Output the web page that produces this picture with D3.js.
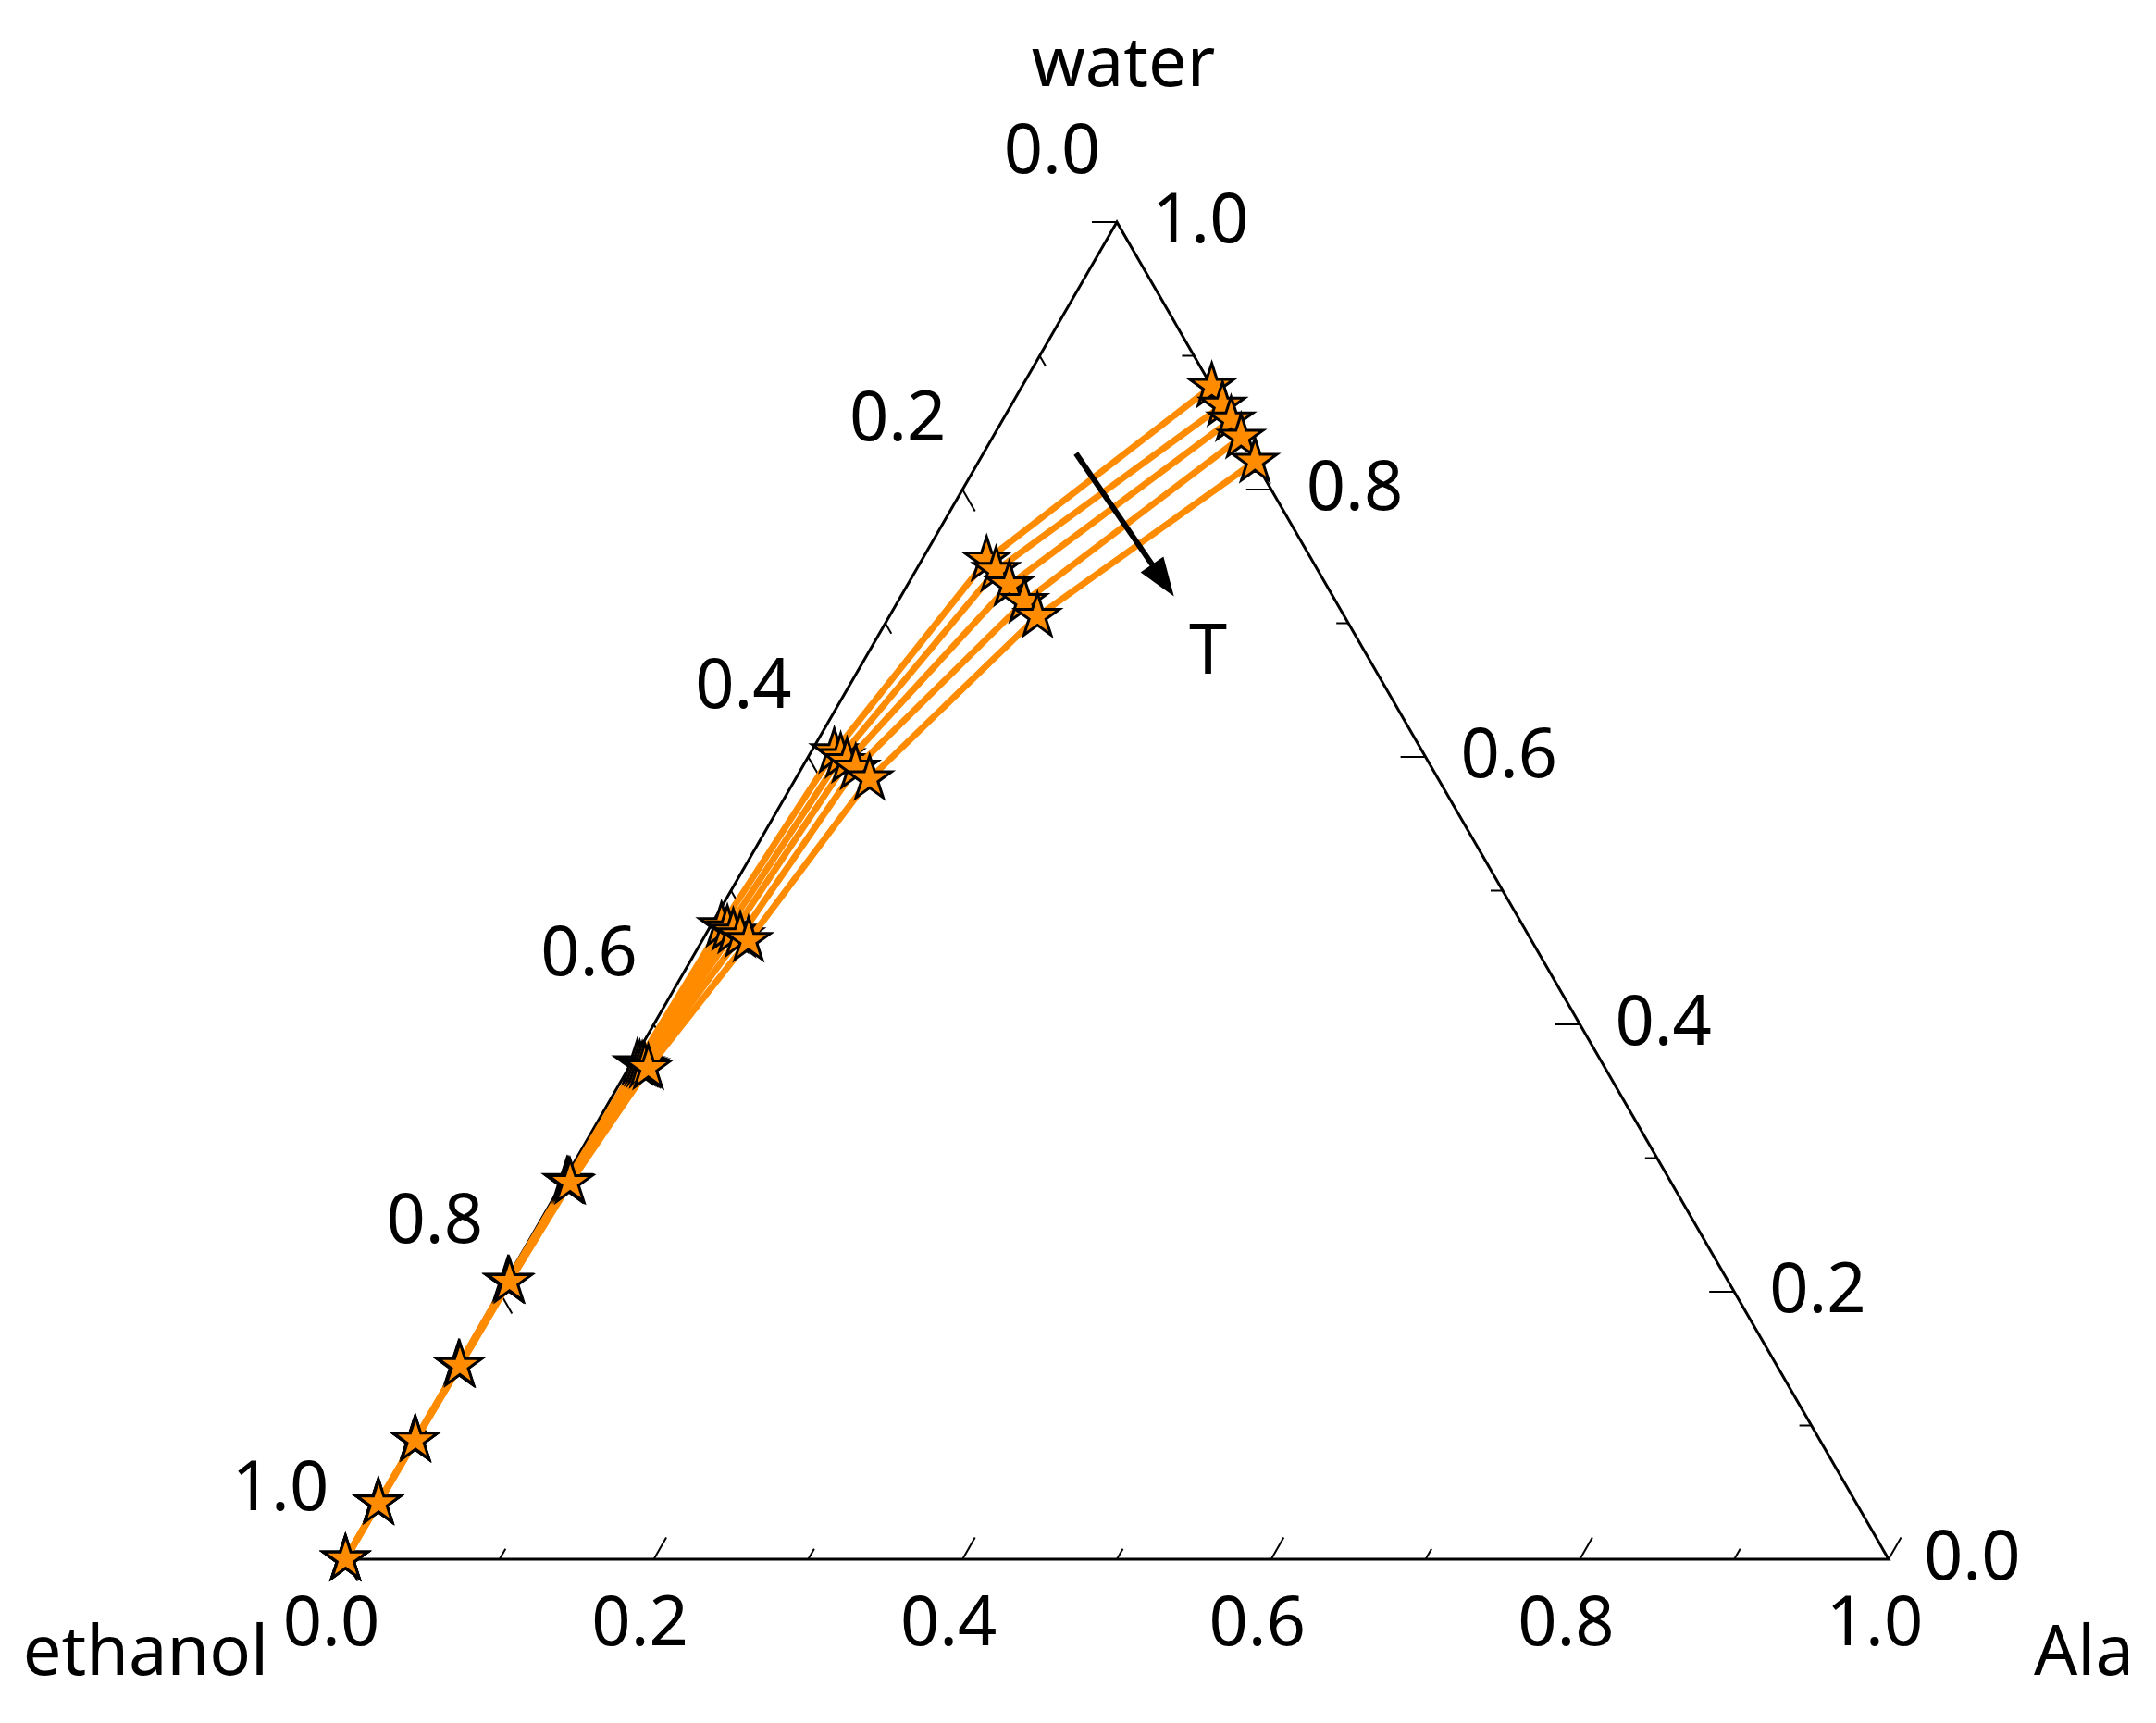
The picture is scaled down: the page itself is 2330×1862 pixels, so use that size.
<!DOCTYPE html>
<html>
<head>
<meta charset="utf-8">
<script src="https://cdn.jsdelivr.net/npm/d3@7/dist/d3.min.js"></script>
<style>
  html, body { margin: 0; padding: 0; background: #ffffff; }
  svg { display: block; font-family: "Noto Sans", "Open Sans", sans-serif; }
</style>
</head>
<body>
<div id="chart"></div>
<script>
// water mass fraction of the solvent (Ala-free basis) for each point
const solventWater = [0, 0.042, 0.089, 0.145, 0.208, 0.283, 0.372, 0.477, 0.613, 0.780, 1.0];

// Ala mass fraction, one array per temperature (lowest T first)
const alaT1 = [0.0001, 0.0003, 0.0007, 0.0010, 0.0014, 0.0025, 0.0040, 0.0070, 0.0150, 0.0420, 0.1230];
const alaT2 = [0.0001, 0.0004, 0.0008, 0.0012, 0.0017, 0.0031, 0.0060, 0.0120, 0.0210, 0.0520, 0.1370];
const alaT3 = [0.0002, 0.0005, 0.0009, 0.0014, 0.0020, 0.0037, 0.0080, 0.0170, 0.0270, 0.0660, 0.1480];
const alaT4 = [0.0002, 0.0006, 0.0010, 0.0017, 0.0024, 0.0043, 0.0100, 0.0230, 0.0350, 0.0820, 0.1610];
const alaT5 = [0.0003, 0.0007, 0.0012, 0.0020, 0.0028, 0.0050, 0.0128, 0.0300, 0.0480, 0.0960, 0.1790];
const series = [alaT1, alaT2, alaT3, alaT4, alaT5];

const tickValues = [0, 0.1, 0.2, 0.3, 0.4, 0.5, 0.6, 0.7, 0.8, 0.9, 1.0];
const labelValues = [0, 0.2, 0.4, 0.6, 0.8, 1.0];
const tickLabels = ["0.0", "0.2", "0.4", "0.6", "0.8", "1.0"];

(function () {
  const W = 2330, H = 1862;
  const orange = "#ff8c00";

  const svg = d3
    .select("#chart")
    .append("svg")
    .attr("width", W)
    .attr("height", H);

  svg.append("rect").attr("width", W).attr("height", H).attr("fill", "#ffffff");

  // base runs along Ala fraction, height along water fraction
  const x = d3.scaleLinear().domain([0, 1]).range([373, 2041]);
  const y = d3.scaleLinear().domain([0, 1]).range([1685, 240]);

  // (ala, water) -> screen
  const px = (a, w) => x(a + w / 2);
  const py = (a, w) => y(w);

  // triangle
  const corners = [[0, 0], [1, 0], [0, 1]];
  svg.append("path")
    .attr("d", "M" + corners.map((c) => [px(c[0], c[1]), py(c[0], c[1])].join(",")).join("L") + "Z")
    .attr("fill", "none")
    .attr("stroke", "black")
    .attr("stroke-width", 3);

  const isMajor = (v) => Math.round(v * 10) % 2 === 0;
  const tickLen = (v) => (isMajor(v) ? 27 : 13);

  const axes = [
    // Ala on the base, ticks point up along constant-Ala lines
    { pos: (v) => [v, 0], dir: [0.5, -0.866], lab: [-15, 93], anchor: "middle" },
    // water on the right edge, ticks horizontal
    { pos: (v) => [1 - v, v], dir: [-1, 0], lab: [38, 22], anchor: "start" },
    // ethanol on the left edge, ticks point down-right
    { pos: (v) => [0, 1 - v], dir: [0.5, 0.866], lab: [-70, -53], anchor: "middle" }
  ];

  axes.forEach((ax) => {
    const g = svg.append("g");
    g.selectAll("line")
      .data(tickValues)
      .join("line")
      .attr("x1", (v) => px(...ax.pos(v)))
      .attr("y1", (v) => py(...ax.pos(v)))
      .attr("x2", (v) => px(...ax.pos(v)) + ax.dir[0] * tickLen(v))
      .attr("y2", (v) => py(...ax.pos(v)) + ax.dir[1] * tickLen(v))
      .attr("stroke", "black")
      .attr("stroke-width", 2);

    g.selectAll("text")
      .data(labelValues)
      .join("text")
      .attr("x", (v) => px(...ax.pos(v)) + ax.lab[0])
      .attr("y", (v) => py(...ax.pos(v)) + ax.lab[1])
      .attr("text-anchor", ax.anchor)
      .attr("font-size", "74px")
      .text((v, i) => tickLabels[i]);
  });

  // vertex names
  svg.append("text").attr("x", 1214).attr("y", 93)
    .attr("text-anchor", "middle").attr("font-size", "74px").text("water");
  svg.append("text").attr("x", 290).attr("y", 1810)
    .attr("text-anchor", "end").attr("font-size", "74px").text("ethanol");
  svg.append("text").attr("x", 2198).attr("y", 1810)
    .attr("text-anchor", "start").attr("font-size", "74px").text("Ala");

  // solubility curves
  const line = d3.line()
    .x((d) => px(d.a, d.w))
    .y((d) => py(d.a, d.w));
  const star = d3.symbol().type(d3.symbolStar).size(700);

  series.forEach((ala) => {
    const pts = ala.map((a, i) => ({ a: a, w: solventWater[i] * (1 - a) }));

    svg.append("path")
      .datum(pts)
      .attr("d", line)
      .attr("fill", "none")
      .attr("stroke", orange)
      .attr("stroke-width", 7);

    svg.append("g")
      .selectAll("path")
      .data(pts)
      .join("path")
      .attr("d", star)
      .attr("transform", (d) => `translate(${px(d.a, d.w)},${py(d.a, d.w)})`)
      .attr("fill", orange)
      .attr("stroke", "black")
      .attr("stroke-width", 3)
      .attr("stroke-linejoin", "miter");
  });

  // temperature arrow
  const a0 = [px(0.06, 0.827), py(0.06, 0.827)];
  const a1 = [px(0.177, 0.72), py(0.177, 0.72)];
  const dx = a1[0] - a0[0], dy = a1[1] - a0[1];
  const len = Math.hypot(dx, dy);
  const ux = dx / len, uy = dy / len;
  const headL = 42, headW = 15;
  svg.append("line")
    .attr("x1", a0[0]).attr("y1", a0[1])
    .attr("x2", a1[0] - ux * headL * 0.8).attr("y2", a1[1] - uy * headL * 0.8)
    .attr("stroke", "black")
    .attr("stroke-width", 6);
  const bx = a1[0] - ux * headL, by = a1[1] - uy * headL;
  svg.append("path")
    .attr("d", `M${a1[0]},${a1[1]}L${bx - uy * headW},${by + ux * headW}L${bx + uy * headW},${by - ux * headW}Z`)
    .attr("fill", "black");

  svg.append("text")
    .attr("x", px(0.228, 0.6623))
    .attr("y", py(0.228, 0.6623))
    .attr("text-anchor", "middle")
    .attr("font-size", "74px")
    .text("T");
})();
</script>
</body>
</html>
